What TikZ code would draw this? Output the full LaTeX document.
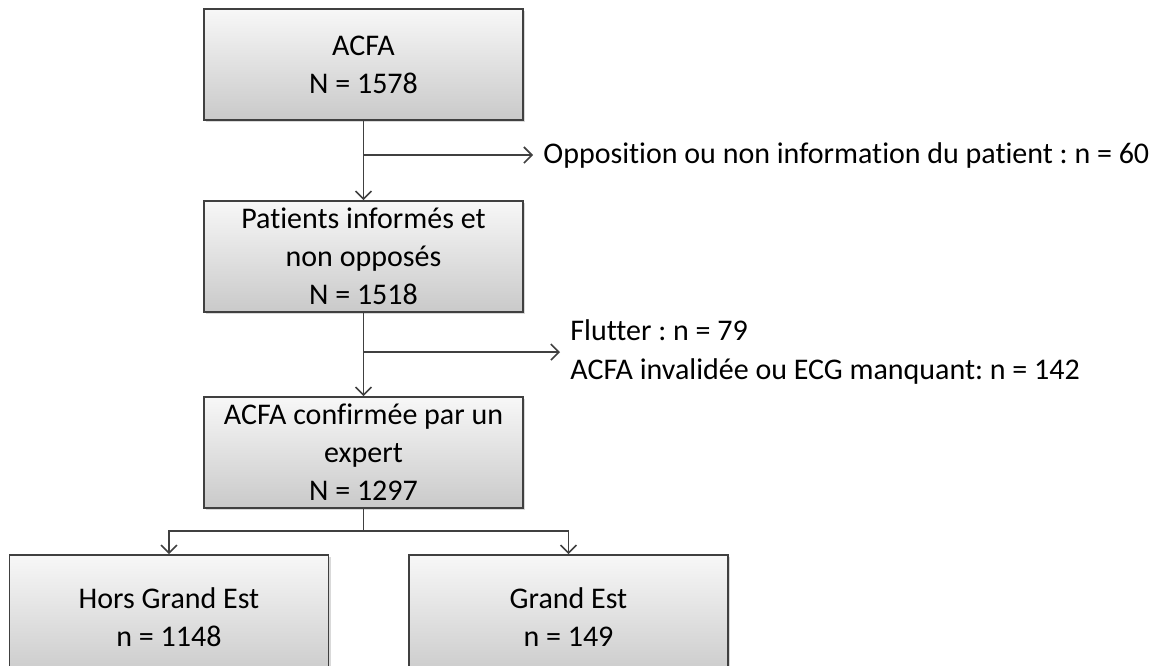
\documentclass[tikz,border=0pt]{standalone}
\usepackage{fontspec}
\setmainfont{Carlito}[Ligatures=NoCommon]
\frenchspacing
\usetikzlibrary{positioning,shadows,calc,arrows.meta}

\tikzset{
  box/.style={draw=black!75, line width=0.8pt, top color=gray!6, bottom color=gray!42,
    drop shadow={opacity=0.3, shadow xshift=1.2pt, shadow yshift=-1.2pt},
    minimum width=159.5pt, minimum height=55.5pt, inner sep=0pt, align=center,
    font=\fontsize{15}{19}\selectfont},
  excl/.style={anchor=west, align=left, inner sep=5pt, font=\fontsize{15}{19.5}\selectfont},
  link/.style={-{Straight Barb[length=4pt,width=8pt]}, draw=black!75, line width=0.8pt}
}

\begin{document}
\begin{tikzpicture}[x=0.5pt, y=-0.5pt]
    \useasboundingbox (0,0) rectangle (1150,665);
    % boxes of the flow
    \node (acfa) [box] at (363.5,64.5) {ACFA\\N = 1578};
    \node (informes) [box] at (363.5,256.5) {Patients informés et\\non opposés\\N = 1518};
    \node (expert) [box] at (363.5,452.5) {ACFA confirmée par un\\expert\\N = 1297};
    \node (hors) [box, minimum height=62pt] at (169,617) {Hors Grand Est\\n = 1148};
    \node (grandest) [box, minimum height=62pt] at (568.5,617) {Grand Est\\n = 149};
    % exclusions
    \coordinate (b1) at (363.5,155);
    \coordinate (b2) at (363.5,352);
    \coordinate (b3) at (363.5,531);
    \node (opposition) [excl] at (533,155) {Opposition ou non information du patient : n = 60};
    \node (flutter) [excl] at (560,352) {Flutter : n = 79\\ACFA invalidée ou ECG manquant: n = 142};
    \draw[link] (acfa) -- (informes);
    \draw[link] (b1) -- (b1 -| opposition.west);
    \draw[link] (informes) -- (expert);
    \draw[link] (b2) -- (b2 -| flutter.west);
    \draw[black!75, line width=0.8pt] (expert) -- (b3);
    \draw[link] (b3) -| (hors.north);
    \draw[link] (b3) -| (grandest.north);
\end{tikzpicture}
\end{document}
